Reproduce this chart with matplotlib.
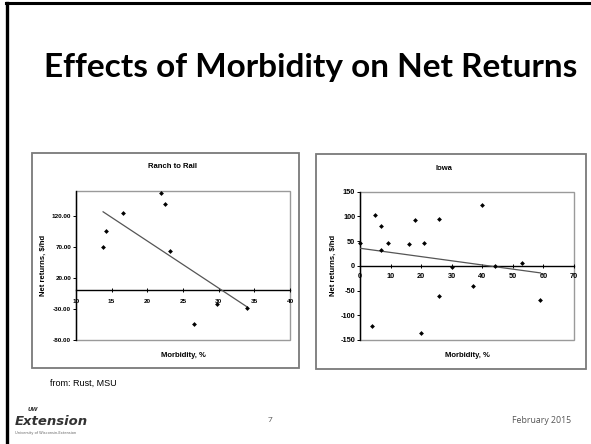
import numpy as np
import matplotlib
matplotlib.use("Agg")
import matplotlib.pyplot as plt
from matplotlib.patches import Rectangle
from matplotlib.lines import Line2D

# ---------------- data ----------------
ranch_morbidity = [13.8, 14.2, 16.6, 21.9, 22.5, 23.2, 26.5, 29.7, 34.0]
ranch_returns = [70, 95, 125, 157, 139, 64, -54, -22, -29]
ranch_xticks = [10, 15, 20, 25, 30, 35, 40]
ranch_yticks = [-80, -30, 20, 70, 120]

iowa_morbidity = [0, 5, 7, 7, 9, 16, 18, 21, 26, 40, 30, 53, 44, 26, 37, 59, 4, 20]
iowa_returns = [46, 103, 81, 32, 46, 45, 93, 46, 94, 123, -3, 6, -1, -60, -40, -70, -122, -135]
iowa_xticks = [0, 10, 20, 30, 40, 50, 60, 70]
iowa_yticks = [-150, -100, -50, 0, 50, 100, 150]

W, H = 591, 444
fig = plt.figure(figsize=(W / 100, H / 100), dpi=100)
fig.patch.set_facecolor("white")


def fx(px):
    return px / W


def fy(py):
    return 1 - py / H


# slide border (top and left)
fig.add_artist(Line2D([fx(6), 1], [fy(3.5), fy(3.5)], color="black", lw=2.2))
fig.add_artist(Line2D([fx(6.5), fx(6.5)], [fy(3.5), 0], color="black", lw=2.4))

# slide title
fig.text(fx(311), fy(68), "Effects of Morbidity on Net Returns", ha="center", va="center",
         fontsize=24, fontweight="bold", family="Lato", color="black")

# chart frames
for (x0, y0, x1, y1) in [(32, 153, 299, 368), (316, 154, 586, 369)]:
    fig.add_artist(Rectangle((fx(x0), fy(y1)), fx(x1) - fx(x0), fy(y0) - fy(y1),
                             fill=False, edgecolor="#7a7a7a", lw=1.3))

CF = "Liberation Sans"


def make_chart(rect, xs, ys, xticks, yticks, ylim, yfmt, title, title_xy, ylab_x, xlab_y,
               tick_fs, xlab_offset):
    ax = fig.add_axes(rect)
    ax.set_xlim(xticks[0], xticks[-1])
    ax.set_ylim(*ylim)
    ax.patch.set_alpha(0)
    for s in ["top", "right"]:
        ax.spines[s].set_visible(False)
    ax.spines["left"].set_color("black")
    ax.spines["left"].set_linewidth(1.0)
    ax.spines["bottom"].set_position(("data", 0))
    ax.spines["bottom"].set_color("black")
    ax.spines["bottom"].set_linewidth(1.0)
    # gray plot-area border
    ax.add_patch(Rectangle((0, 0), 1, 1, transform=ax.transAxes, fill=False,
                           edgecolor="#9a9a9a", lw=1.0, clip_on=False, zorder=0))
    ax.set_xticks(xticks)
    ax.set_yticks(yticks)
    ax.set_xticklabels([str(t) for t in xticks], fontsize=tick_fs, family=CF, fontweight="bold")
    ax.set_yticklabels([yfmt.format(t) for t in yticks], fontsize=tick_fs, family=CF,
                       fontweight="bold")
    ax.tick_params(axis="x", direction="inout", length=3, width=0.7, pad=xlab_offset)
    ax.tick_params(axis="y", direction="out", length=2, width=0.7, pad=1.5)
    ax.scatter(xs, ys, marker="D", s=6, color="black", zorder=5, clip_on=False, linewidths=0)
    # linear trend line
    coef = np.polyfit(xs, ys, 1)
    tx = np.array([min(xs), max(xs)])
    ax.plot(tx, np.polyval(coef, tx), color="#555555", lw=0.9, zorder=4)
    fig.text(fx(title_xy[0]), fy(title_xy[1]), title, ha="center", va="center",
             fontsize=5.5, family=CF, fontweight="bold")
    fig.text(fx(ylab_x), fy(265), "Net returns, $/hd", ha="center", va="center",
             rotation=90, fontsize=5.5, family=CF, fontweight="bold")
    fig.text(fx((rect[0] + rect[2] / 2) * W), fy(xlab_y), "Morbidity, %", ha="center",
             va="center", fontsize=5.5, family=CF, fontweight="bold")
    return ax


make_chart([fx(76), fy(340), fx(290) - fx(76), fy(191) - fy(340)],
           ranch_morbidity, ranch_returns, ranch_xticks, ranch_yticks, (-80, 160), "{:.2f}",
           "Ranch to Rail", (172, 166), 43, 355, 4.6, 5)

make_chart([fx(360), fy(340), fx(574) - fx(360), fy(191.7) - fy(340)],
           iowa_morbidity, iowa_returns, iowa_xticks, iowa_yticks, (-150, 150), "{:d}",
           "Iowa", (444, 168), 333, 355, 5.3, 4)

# source note
fig.text(fx(50), fy(383), "from: Rust, MSU", ha="left", va="center", fontsize=6.5,
         family="Liberation Sans", color="black")

# footer
fig.text(fx(15), fy(421), "Extension", ha="left", va="center", fontsize=9.5,
         family="DejaVu Sans", style="italic", fontweight="bold", color="#333333")
fig.text(fx(28), fy(409), "UW", ha="left", va="center", fontsize=4.0,
         family="DejaVu Sans", style="italic", fontweight="bold", color="#333333")
fig.text(fx(15), fy(433), "University of Wisconsin-Extension", ha="left", va="center",
         fontsize=2.6, family="DejaVu Sans", color="#666666")
fig.text(fx(270), fy(420), "7", ha="center", va="center", fontsize=6,
         family="Open Sans", color="#555555")
fig.text(fx(571), fy(420), "February 2015", ha="right", va="center", fontsize=6.3,
         family="Open Sans", color="#555555")

fig.savefig("out.png", dpi=100)
